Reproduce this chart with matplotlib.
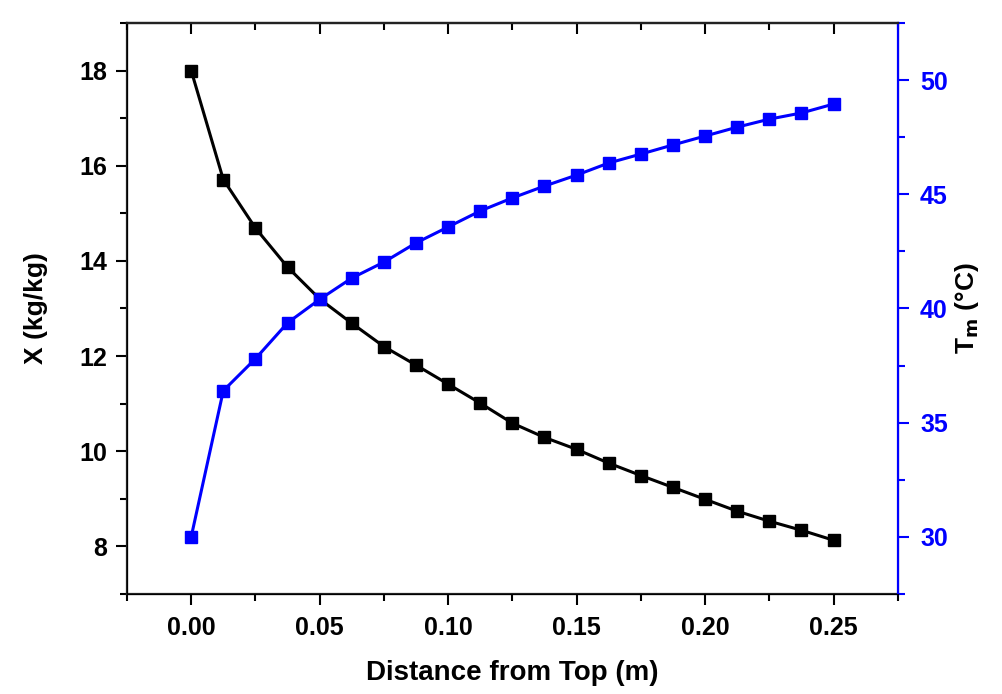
import numpy as np
import matplotlib.pyplot as plt
from matplotlib.ticker import MultipleLocator

plt.rcParams['font.family'] = ['Liberation Sans', 'DejaVu Sans']
plt.rcParams['font.weight'] = 'bold'
plt.rcParams['mathtext.default'] = 'bf'

# distance from top (m)
dist = [0.0, 0.0125, 0.025, 0.0375, 0.05, 0.0625, 0.075, 0.0875, 0.1, 0.1125,
        0.125, 0.1375, 0.15, 0.1625, 0.175, 0.1875, 0.2, 0.2125, 0.225, 0.2375, 0.25]
# moisture X (kg/kg)
moist = [18.0, 15.71, 14.69, 13.87, 13.2, 12.69, 12.2, 11.81, 11.41, 11.01,
         10.59, 10.29, 10.04, 9.75, 9.49, 9.24, 8.99, 8.74, 8.53, 8.34, 8.13]
# material temperature Tm (C)
temp = [30.0, 36.4, 37.8, 39.37, 40.4, 41.33, 42.03, 42.87, 43.57, 44.27,
        44.84, 45.36, 45.84, 46.37, 46.76, 47.16, 47.55, 47.94, 48.29, 48.56, 48.95]

fig = plt.figure(figsize=(10.02, 6.94), dpi=100)
ax = fig.add_axes([0.1267, 0.1441, 0.7693, 0.8228])
ax2 = ax.twinx()

ax.plot(dist, moist, '-s', color='black', lw=2.2, ms=9, zorder=3)
ax2.plot(dist, temp, '-s', color='blue', lw=2.2, ms=9, zorder=3)

ax.set_xlim(-0.025, 0.275)
ax.set_ylim(7, 19)
ax2.set_ylim(27.5, 52.5)

ax.xaxis.set_major_locator(MultipleLocator(0.05))
ax.xaxis.set_minor_locator(MultipleLocator(0.025))
ax.yaxis.set_major_locator(MultipleLocator(2))
ax.yaxis.set_minor_locator(MultipleLocator(1))
ax2.yaxis.set_major_locator(MultipleLocator(5))
ax2.yaxis.set_minor_locator(MultipleLocator(2.5))
ax.xaxis.set_major_formatter(plt.FormatStrFormatter('%.2f'))

ax.tick_params(axis='x', which='both', direction='out', top=False, labelsize=18, pad=8, width=1.5)
ax.tick_params(axis='x', which='major', length=8)
ax.tick_params(axis='x', which='minor', length=5)
ax.tick_params(axis='y', which='both', direction='out', labelsize=18, pad=6, width=1.5)
ax.tick_params(axis='y', which='major', length=8)
ax.tick_params(axis='y', which='minor', length=5)

# inward ticks along the top edge, drawn by the twin's x axis
ax2.xaxis.set_visible(True)
ax2.tick_params(axis='x', which='both', direction='in', top=True, bottom=False,
                labeltop=False, labelbottom=False, width=1.5)
ax2.tick_params(axis='x', which='major', length=8)
ax2.tick_params(axis='x', which='minor', length=5)

ax2.tick_params(axis='y', which='both', direction='out', colors='blue', labelsize=18, pad=8, width=1.5)
ax2.tick_params(axis='y', which='major', length=8)
ax2.tick_params(axis='y', which='minor', length=5)
ax2.spines['right'].set_color('blue')
ax2.spines['right'].set_linewidth(1.6)

for s in ['left', 'bottom', 'top']:
    ax.spines[s].set_linewidth(1.6)
    ax.spines[s].set_color('#222222')
ax2.spines['top'].set_linewidth(1.6)
ax2.spines['top'].set_color('#222222')

ax.set_xlabel('Distance from Top (m)', fontsize=20, fontweight='bold')
ax.set_ylabel('X (kg/kg)', fontsize=19, fontweight='bold')
ax2.set_ylabel(r'T$_\mathbf{m}$ (°C)', fontsize=19, fontweight='bold')
ax.xaxis.set_label_coords(0.5, -0.116)
ax.yaxis.set_label_coords(-0.102, 0.5)
ax2.yaxis.set_label_coords(1.071, 0.5)

plt.savefig('out.png', dpi=100)
